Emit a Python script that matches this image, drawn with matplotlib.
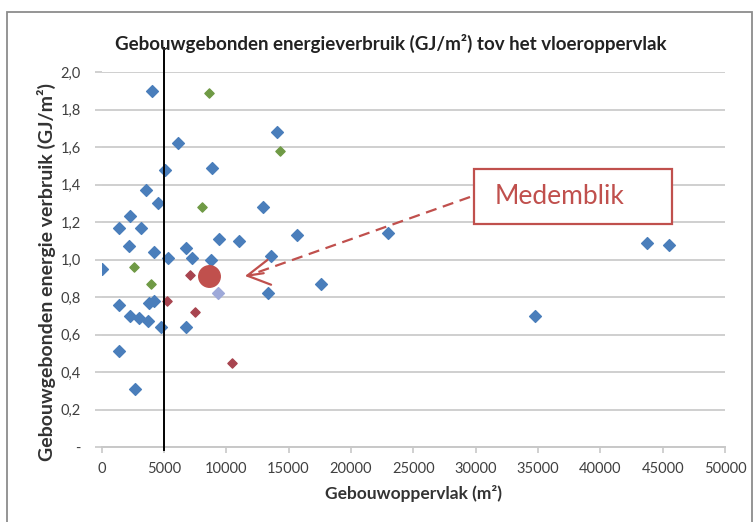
import matplotlib
matplotlib.use("Agg")
import matplotlib.pyplot as plt
from matplotlib.patches import Rectangle
from matplotlib.ticker import FuncFormatter

# building floor area (m2) vs building-related energy use (GJ/m2)
blue_x = [30, 1440, 2320, 3170, 2190, 3570, 4560, 4180, 4050, 5120, 6110, 8880,
          12960, 14110, 15650, 9390, 11040, 5360, 6800, 7250, 8770, 13620, 17630,
          13360, 1440, 2320, 3040, 3710, 3840, 4240, 4770, 6770, 1440, 2690,
          22990, 34800, 43760, 45520]
blue_y = [0.95, 1.17, 1.23, 1.17, 1.07, 1.37, 1.30, 1.04, 1.90, 1.48, 1.62, 1.49,
          1.28, 1.68, 1.13, 1.11, 1.10, 1.01, 1.06, 1.01, 1.00, 1.02, 0.87,
          0.82, 0.76, 0.70, 0.69, 0.67, 0.77, 0.78, 0.64, 0.64, 0.51, 0.31,
          1.14, 0.70, 1.09, 1.08]
light_x = [9310]
light_y = [0.82]
green_x = [8590, 14320, 8050, 2610, 3970]
green_y = [1.89, 1.58, 1.28, 0.96, 0.87]
red_x = [7120, 7490, 10430, 5230]
red_y = [0.92, 0.72, 0.45, 0.78]
medemblik_x = 8610
medemblik_y = 0.91
threshold_x = 5000

x_ticks = list(range(0, 50001, 5000))
y_ticks = [0, 0.2, 0.4, 0.6, 0.8, 1.0, 1.2, 1.4, 1.6, 1.8, 2.0]

plt.rcParams["font.family"] = ["Lato", "DejaVu Sans"]

W, H = 755, 522
fig = plt.figure(figsize=(W / 100, H / 100), dpi=100)

def fx(px):
    return px / W

def fy(py):
    return 1 - py / H

# outer chart frame
fig.patches.append(Rectangle((fx(7), fy(600)), fx(752 - 7), (600 - 12) / H,
                             transform=fig.transFigure, fill=False,
                             edgecolor="#8c8c8c", linewidth=1.3))

ax = fig.add_axes([fx(101.5), fy(447), (725 - 101.5) / W, (447 - 72) / H])
ax.set_xlim(0, 50000)
ax.set_ylim(0, 2.0)

ax.set_yticks(y_ticks)
ax.set_xticks(x_ticks)
ax.yaxis.set_major_formatter(FuncFormatter(
    lambda v, p: "-" if abs(v) < 1e-9 else f"{v:.1f}".replace(".", ",")))
ax.grid(axis="y", color="#cfcfcf", linewidth=1.4)
ax.set_axisbelow(True)
for side in ["top", "right", "left"]:
    ax.spines[side].set_visible(False)
ax.spines["bottom"].set_color("#c8c8c8")
ax.spines["bottom"].set_linewidth(1.4)
ax.tick_params(axis="x", length=4, color="#c8c8c8", width=1.2,
               labelsize=10.5, labelcolor="#404040", pad=7)
ax.tick_params(axis="y", length=5, color="#c8c8c8", width=1.2,
               labelsize=10.5, labelcolor="#404040", pad=10)

ax.scatter(blue_x, blue_y, marker="D", s=36, color="#4a7ebb", zorder=3)
ax.scatter(light_x, light_y, marker="D", s=36, color="#9ea9d9", zorder=3)
ax.scatter(green_x, green_y, marker="D", s=22, color="#6f9a45", zorder=3)
ax.scatter(red_x, red_y, marker="D", s=22, color="#a8444f", zorder=3)
ax.scatter([medemblik_x], [medemblik_y], marker="o", s=240, color="#c0504d", zorder=4)

# 5000 m2 threshold line
ax.plot([threshold_x, threshold_x], [-0.015, 2.13], color="black",
        linewidth=1.4, clip_on=False, zorder=5)

fig.text(fx(413), fy(494), "Gebouwoppervlak (m²)", ha="center", va="center",
         fontsize=12.5, fontweight="bold", color="#333333")
fig.text(fx(46), fy(272), "Gebouwgebonden energie verbruik (GJ/m²)", ha="center",
         va="center", rotation=90, fontsize=14, fontweight="bold", color="#333333")
fig.text(fx(391), fy(43), "Gebouwgebonden energieverbruik (GJ/m²) tov het vloeroppervlak",
         ha="center", va="center", fontsize=13.5, fontweight="bold", color="#222222")

# Medemblik callout
box_l, box_t, box_r, box_b = 474, 169, 672, 224
fig.patches.append(Rectangle((fx(box_l), fy(box_b)), fx(box_r - box_l),
                             (box_b - box_t) / H, transform=fig.transFigure,
                             facecolor="white", edgecolor="#c0504d",
                             linewidth=1.6, zorder=6))
fig.text(fx(495), fy(196), "Medemblik", ha="left", va="center", fontsize=19,
         color="#c0504d", zorder=7)

start = ax.transData.inverted().transform(fig.transFigure.transform((fx(470), fy(197))))
tip = ax.transData.inverted().transform(fig.transFigure.transform((fx(245), fy(276))))
ax.plot([start[0], tip[0] + 300], [start[1], tip[1] + 0.003], color="#c0504d",
        linewidth=1.6, linestyle=(0, (5, 3)), clip_on=False, zorder=6)
ax.annotate("", xy=tip, xytext=(tip[0] + 1500, tip[1] + 0.015),
            arrowprops=dict(arrowstyle="->,head_length=0.8,head_width=0.45",
                            color="#c0504d", linewidth=1.6, mutation_scale=20,
                            shrinkA=0, shrinkB=0), zorder=6)

fig.savefig("out.png", dpi=100)
